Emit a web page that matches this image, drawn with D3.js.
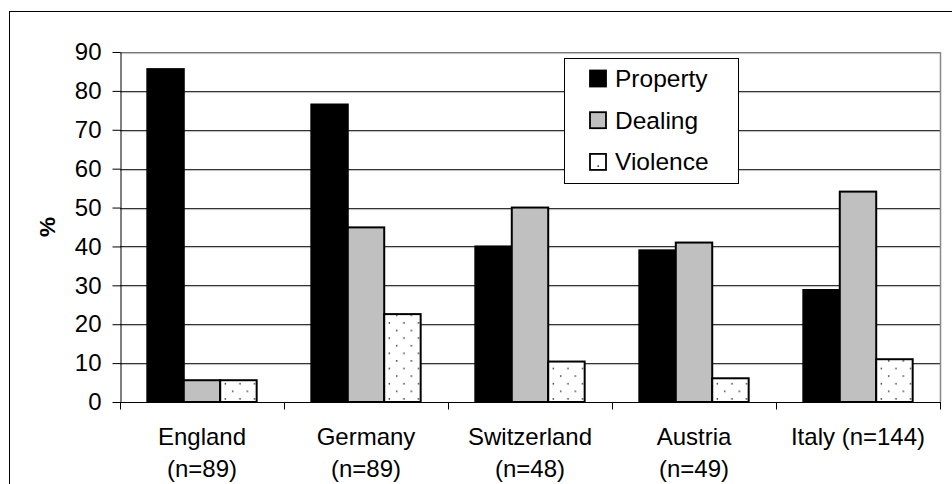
<!DOCTYPE html>
<html>
<head>
<meta charset="utf-8">
<script src="https://cdn.jsdelivr.net/npm/d3@7"></script>
<style>
  html, body { margin: 0; padding: 0; background: #fff; }
  svg { display: block; font-family: "Liberation Sans", Arial, sans-serif; }
</style>
</head>
<body>
<svg id="chart" width="952" height="484"></svg>
<script>
// Offence categories by country, in percent
const countries = ["England", "Germany", "Switzerland", "Austria", "Italy (n=144)"];
const sampleSizes = ["(n=89)", "(n=89)", "(n=48)", "(n=49)", ""];
const seriesNames = ["Property", "Dealing", "Violence"];
const property = [85.6, 76.5, 40.0, 39.0, 28.8];
const dealing  = [5.6, 44.9, 50.0, 41.0, 54.1];
const violence = [5.6, 22.6, 10.4, 6.1, 11.0];
const yTicks = [0, 10, 20, 30, 40, 50, 60, 70, 80, 90];

const seriesValues = [property, dealing, violence];

const svg = d3.select("#chart");
const W = 952, H = 484;
const plot = { left: 120, right: 940, top: 52, bottom: 402 };
const FONT = 24;

// Dotted fill used by the third series
const defs = svg.append("defs");
const pat = defs.append("pattern")
  .attr("id", "dots")
  .attr("patternUnits", "userSpaceOnUse")
  .attr("width", 14.6).attr("height", 15.2);
pat.append("rect").attr("width", 14.6).attr("height", 15.2).attr("fill", "#fff");
pat.append("rect").attr("x", 2.5).attr("y", 3).attr("width", 1.4).attr("height", 1.4).attr("fill", "#222");
pat.append("rect").attr("x", 9.8).attr("y", 10.6).attr("width", 1.4).attr("height", 1.4).attr("fill", "#222");

const fills = ["#000000", "#c0c0c0", "url(#dots)"];

// Outer frame
svg.append("rect")
  .attr("x", 9.5).attr("y", 11.5)
  .attr("width", W - 9).attr("height", H)
  .attr("fill", "#fff").attr("stroke", "#000").attr("stroke-width", 1);

const x0 = d3.scaleBand()
  .domain(countries)
  .range([plot.left, plot.right])
  .paddingInner(0).paddingOuter(0);

const groupW = x0.bandwidth();
const barW = groupW / 4.5;
const x1 = d3.scaleBand()
  .domain(seriesNames)
  .range([groupW / 2 - 1.5 * barW, groupW / 2 + 1.5 * barW])
  .padding(0);

const y = d3.scaleLinear().domain([0, 90]).range([plot.bottom, plot.top]);

// Gridlines
const grid = svg.append("g");
grid.selectAll("line.g")
  .data(yTicks.filter(t => t > 0))
  .join("line")
  .attr("x1", plot.left).attr("x2", plot.right)
  .attr("y1", d => Math.round(y(d)) + 0.5).attr("y2", d => Math.round(y(d)) + 0.5)
  .attr("stroke", d => d === 90 ? "#777" : "#333").attr("stroke-width", 1.2);
grid.selectAll("line.s")
  .data(yTicks.filter(t => t > 0))
  .join("line")
  .attr("x1", plot.left).attr("x2", plot.right)
  .attr("y1", d => Math.round(y(d)) + 1.6).attr("y2", d => Math.round(y(d)) + 1.6)
  .attr("stroke", "#aaa").attr("stroke-width", 0.8);

// Plot area border (right edge)
svg.append("line")
  .attr("x1", plot.right + 0.5).attr("x2", plot.right + 0.5)
  .attr("y1", plot.top).attr("y2", plot.bottom)
  .attr("stroke", "#888").attr("stroke-width", 1.5);

// Bars
const groups = svg.append("g").selectAll("g")
  .data(countries)
  .join("g")
  .attr("transform", d => `translate(${x0(d)},0)`);

groups.selectAll("rect")
  .data((c, i) => seriesNames.map((s, k) => ({ s, k, v: seriesValues[k][i] })))
  .join("rect")
  .attr("x", d => x1(d.s))
  .attr("width", x1.bandwidth())
  .attr("y", d => y(d.v))
  .attr("height", d => y(0) - y(d.v))
  .attr("fill", d => fills[d.k])
  .attr("stroke", "#000")
  .attr("stroke-width", 2);

// Y axis
const yAxis = d3.axisLeft(y).tickValues(yTicks).tickSize(8).tickPadding(11).tickSizeOuter(0);
const yg = svg.append("g")
  .attr("transform", `translate(${plot.left + 0.5},0)`)
  .call(yAxis);
yg.attr("font-size", FONT).attr("font-family", "Liberation Sans, Arial, sans-serif");
yg.selectAll("path, line").attr("stroke", "#000");
yg.selectAll("text").attr("fill", "#000");

// X axis with boundary ticks between groups
const xg = svg.append("g").attr("transform", `translate(0,${plot.bottom + 0.5})`);
xg.append("line")
  .attr("x1", plot.left).attr("x2", plot.right + 1)
  .attr("stroke", "#000").attr("stroke-width", 1.2);
const bounds = countries.map(c => x0(c)).concat([plot.right]);
xg.selectAll("line.tk")
  .data(bounds)
  .join("line")
  .attr("class", "tk")
  .attr("x1", d => Math.round(d) + 0.5).attr("x2", d => Math.round(d) + 0.5)
  .attr("y1", 0).attr("y2", 7)
  .attr("stroke", "#000");

const labels = xg.selectAll("text.lbl")
  .data(countries)
  .join("text")
  .attr("class", "lbl")
  .attr("x", d => x0(d) + groupW / 2)
  .attr("y", 42.5)
  .attr("text-anchor", "middle")
  .attr("font-size", FONT)
  .attr("fill", "#000");
labels.append("tspan").attr("x", d => x0(d) + groupW / 2).text(d => d);
labels.append("tspan")
  .attr("x", d => x0(d) + groupW / 2)
  .attr("dy", 31.5)
  .text((d, i) => sampleSizes[i]);

// Y axis title
svg.append("text")
  .attr("transform", `translate(54.5,227) rotate(-90)`)
  .attr("text-anchor", "middle")
  .attr("font-size", 22.5)
  .attr("font-weight", "bold")
  .text("%");

// Legend
const leg = svg.append("g").attr("transform", "translate(564.5,58.5)");
leg.append("rect")
  .attr("width", 174).attr("height", 125)
  .attr("fill", "#fff").attr("stroke", "#000").attr("stroke-width", 1);
const items = leg.selectAll("g.item")
  .data(seriesNames)
  .join("g")
  .attr("class", "item")
  .attr("transform", (d, i) => `translate(0,${28.5 + i * 41.7})`);
items.append("rect")
  .attr("x", 25.5).attr("y", -16.5)
  .attr("width", 16).attr("height", 16)
  .attr("fill", (d, i) => i === 2 ? "#fff" : fills[i])
  .attr("stroke", "#000").attr("stroke-width", 1.8);
items.filter((d, i) => i === 2).append("rect")
  .attr("x", 33).attr("y", -5).attr("width", 1.4).attr("height", 1.4).attr("fill", "#000");
items.append("text")
  .attr("x", 50.5).attr("y", 0)
  .attr("font-size", 24.5)
  .text(d => d);
</script>
</body>
</html>
